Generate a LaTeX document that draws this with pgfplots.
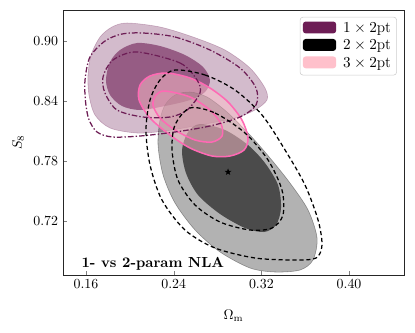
\documentclass[border=0pt]{standalone}
\usepackage{pgfplots}
\pgfplotsset{compat=1.18}

\definecolor{pur}{HTML}{6D1D55}
\definecolor{pinkc}{HTML}{FFC0CB}
\definecolor{hotp}{HTML}{FF69B4}

% filled five-point star
\pgfdeclareplotmark{fstar}{%
  \pgfpathmoveto{\pgfpointpolar{90}{\pgfplotmarksize}}%
  \pgfpathlineto{\pgfpointpolar{126}{0.42\pgfplotmarksize}}%
  \pgfpathlineto{\pgfpointpolar{162}{\pgfplotmarksize}}%
  \pgfpathlineto{\pgfpointpolar{198}{0.42\pgfplotmarksize}}%
  \pgfpathlineto{\pgfpointpolar{234}{\pgfplotmarksize}}%
  \pgfpathlineto{\pgfpointpolar{270}{0.42\pgfplotmarksize}}%
  \pgfpathlineto{\pgfpointpolar{306}{\pgfplotmarksize}}%
  \pgfpathlineto{\pgfpointpolar{342}{0.42\pgfplotmarksize}}%
  \pgfpathlineto{\pgfpointpolar{18}{\pgfplotmarksize}}%
  \pgfpathlineto{\pgfpointpolar{54}{0.42\pgfplotmarksize}}%
  \pgfpathclose\pgfusepathqfill}

\begin{document}
\begin{tikzpicture}
\useasboundingbox (-45.36pt,-41.04pt) rectangle (253.44pt,198pt);
\begin{axis}[
    at={(0,0)}, anchor=south west,
    scale only axis,
    width=245.5pt, height=190.8pt,
    xmin=0.139, xmax=0.4501,
    ymin=0.666, ymax=0.931,
    xtick={0.16,0.24,0.32,0.40},
    ytick={0.72,0.78,0.84,0.90},
    scaled ticks=false,
    xticklabel style={/pgf/number format/.cd, fixed, fixed zerofill, precision=2},
    yticklabel style={/pgf/number format/.cd, fixed, fixed zerofill, precision=2},
    tick align=inside,
    xtick pos=bottom, ytick pos=left,
    major tick length=3pt,
    axis line style={black!85, line width=0.6pt},
    xlabel={$\Omega_{\mathrm{m}}$},
    xlabel style={yshift=-8pt},
    ylabel={$S_8$},
    legend cell align=left,
    legend style={at={(0.979,0.974)}, anchor=north east, font=\fontsize{11}{13}\selectfont,
        draw=black!20, rounded corners=2pt, fill=white,
        row sep=0pt, column sep=3pt, inner xsep=2pt, inner ysep=2pt},
    legend image code/.code={\fill[#1, draw=none] (0cm,-0.12cm) rectangle (0.84cm,0.18cm);},
]

% 1 x 2pt : filled purple
\addplot[smooth cycle, fill=pur, fill opacity=0.3, draw=pur, draw opacity=0.3, forget plot] coordinates {
(0.1974,0.918) (0.2275,0.914) (0.2576,0.904) (0.2868,0.891) (0.3096,0.873)
(0.3233,0.853) (0.3251,0.841) (0.3142,0.831) (0.2959,0.823) (0.2640,0.816)
(0.2321,0.810) (0.2065,0.808) (0.1819,0.813) (0.1682,0.826) (0.1627,0.846)
(0.1618,0.866) (0.1646,0.886) (0.1728,0.904) (0.1837,0.914)
};
\addplot[smooth cycle, fill=pur, fill opacity=0.6, draw=none, forget plot] coordinates {
(0.2065,0.898) (0.2275,0.895) (0.2503,0.886) (0.2668,0.874) (0.2731,0.861)
(0.2686,0.849) (0.2549,0.841) (0.2321,0.835) (0.2093,0.831) (0.1928,0.835)
(0.1819,0.846) (0.1782,0.861) (0.1819,0.879) (0.1910,0.891)
};

% 2 x 2pt : filled grey
\addplot[smooth cycle, fill=black, fill opacity=0.3, draw=black, draw opacity=0.35, forget plot] coordinates {
(0.2412,0.846) (0.2549,0.849) (0.2704,0.844) (0.2886,0.829) (0.3096,0.806)
(0.3279,0.783) (0.3461,0.758) (0.3626,0.731) (0.3708,0.703) (0.3671,0.681)
(0.3553,0.671) (0.3324,0.669) (0.3096,0.673) (0.2823,0.689) (0.2595,0.711)
(0.2412,0.738) (0.2303,0.766) (0.2257,0.796) (0.2275,0.821) (0.2321,0.836)
};
\addplot[smooth cycle, fill=black, fill opacity=0.58, draw=none, forget plot] coordinates {
(0.2640,0.817) (0.2868,0.811) (0.3078,0.796) (0.3233,0.778) (0.3352,0.756)
(0.3379,0.733) (0.3334,0.716) (0.3224,0.709) (0.3051,0.713) (0.2823,0.727)
(0.2622,0.746) (0.2512,0.768) (0.2476,0.791) (0.2531,0.809)
};

% 3 x 2pt : pink
\addplot[smooth cycle, fill=pinkc, fill opacity=0.5, draw=hotp, line width=1.1pt, forget plot] coordinates {
(0.2339,0.868) (0.2549,0.863) (0.2731,0.853) (0.2896,0.839) (0.3023,0.821)
(0.3078,0.803) (0.3042,0.791) (0.2914,0.785) (0.2750,0.785) (0.2549,0.793)
(0.2366,0.806) (0.2184,0.823) (0.2084,0.841) (0.2093,0.856) (0.2184,0.865)
};
\addplot[smooth cycle, fill=pinkc!80!pur, fill opacity=0.3, draw=hotp, line width=1.1pt, forget plot] coordinates {
(0.2321,0.850) (0.2549,0.844) (0.2731,0.831) (0.2832,0.817) (0.2841,0.805)
(0.2750,0.799) (0.2595,0.801) (0.2412,0.811) (0.2275,0.823) (0.2211,0.836)
(0.2239,0.846)
};

% dash-dotted purple contours
\addplot[smooth cycle, draw=pur, line width=0.9pt,
    dash pattern=on 4pt off 1.5pt on 1pt off 1.5pt, forget plot] coordinates {
(0.2120,0.908) (0.2412,0.904) (0.2731,0.891) (0.3005,0.873) (0.3151,0.853)
(0.3151,0.836) (0.3005,0.824) (0.2731,0.815) (0.2412,0.809) (0.2093,0.805)
(0.1840,0.804) (0.1700,0.809) (0.1625,0.822) (0.1595,0.840) (0.1591,0.861)
(0.1636,0.884) (0.1773,0.900) (0.1928,0.907)
};
\addplot[smooth cycle, draw=pur, line width=0.9pt,
    dash pattern=on 4pt off 1.5pt on 1pt off 1.5pt, forget plot] coordinates {
(0.2065,0.889) (0.2458,0.878) (0.2613,0.861) (0.2640,0.848) (0.2522,0.831)
(0.2366,0.824) (0.2120,0.824) (0.1883,0.831) (0.1773,0.848) (0.1755,0.864)
(0.1846,0.881)
};

% dashed black contours
\addplot[smooth cycle, draw=black, line width=0.9pt, dash pattern=on 3pt off 2pt, forget plot] coordinates {
(0.2412,0.871) (0.2686,0.866) (0.2959,0.851) (0.3206,0.826) (0.3416,0.791)
(0.3598,0.756) (0.3717,0.721) (0.3753,0.696) (0.3699,0.683) (0.3507,0.681)
(0.3142,0.683) (0.2777,0.693) (0.2503,0.711) (0.2293,0.741) (0.2184,0.776)
(0.2147,0.811) (0.2184,0.841) (0.2275,0.861)
};
\addplot[smooth cycle, draw=black, line width=0.9pt, dash pattern=on 3pt off 2pt, forget plot] coordinates {
(0.2549,0.833) (0.2777,0.828) (0.3051,0.808) (0.3261,0.781) (0.3388,0.751)
(0.3397,0.726) (0.3297,0.713) (0.3096,0.711) (0.2823,0.719) (0.2595,0.736)
(0.2439,0.761) (0.2385,0.791) (0.2412,0.816)
};

% fiducial point
\addplot[only marks, mark=fstar, mark size=2.6pt, black, forget plot] coordinates {(0.2896,0.769)};

\node[anchor=base west, font=\fontsize{10.5}{12}\selectfont\bfseries] at (rel axis cs:0.04,0.03) {1- vs 2-param NLA};

\addlegendimage{fill=pur}
\addlegendentry{$1\times2$pt}
\addlegendimage{fill=black}
\addlegendentry{$2\times2$pt}
\addlegendimage{fill=pinkc}
\addlegendentry{$3\times2$pt}
\end{axis}
\end{tikzpicture}
\end{document}
